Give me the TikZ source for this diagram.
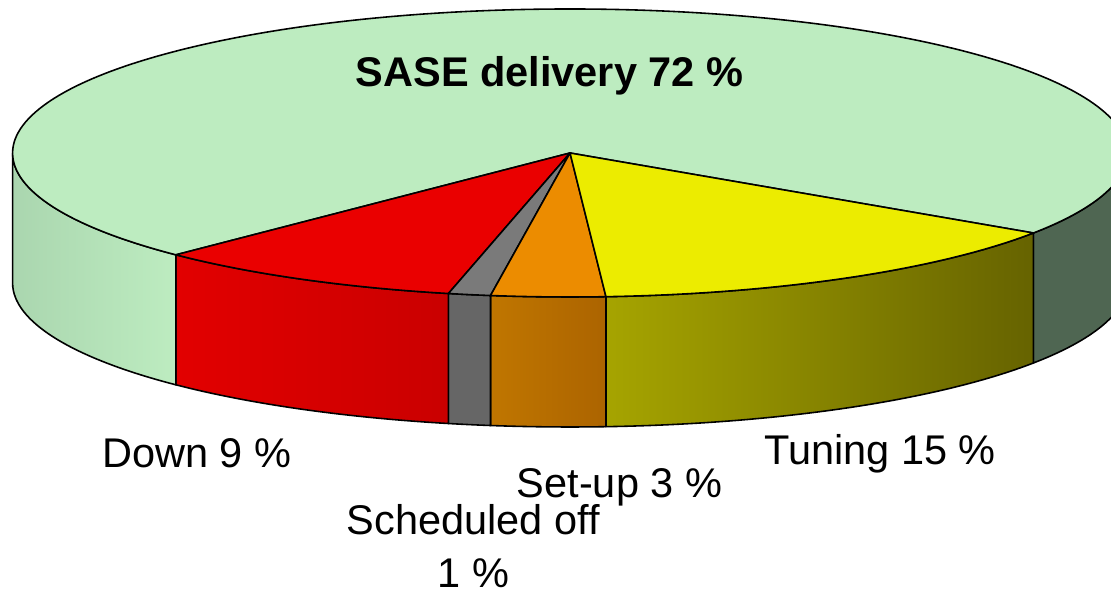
\documentclass[tikz,border=0pt]{standalone}
\usepackage{fontspec}
\setmainfont{Liberation Sans}
\usepackage{tikz}
\usetikzlibrary{positioning}
\definecolor{sasegreen}{RGB}{189,236,192}
\definecolor{sasegreenedge}{RGB}{170,214,175}
\definecolor{sasegreendark}{RGB}{79,102,82}
\definecolor{downred}{RGB}{234,0,0}
\definecolor{downredA}{RGB}{226,0,0}
\definecolor{downredB}{RGB}{202,0,0}
\definecolor{offgray}{RGB}{122,122,122}
\definecolor{offgrayside}{RGB}{102,102,102}
\definecolor{setorange}{RGB}{236,140,0}
\definecolor{setorangeA}{RGB}{192,118,0}
\definecolor{setorangeB}{RGB}{172,100,0}
\definecolor{tuneyellow}{RGB}{236,236,0}
\definecolor{tuneyellowA}{RGB}{166,164,0}
\definecolor{tuneyellowM}{RGB}{118,116,0}
\definecolor{tuneyellowB}{RGB}{102,99,0}
\tikzstyle{slice} = [draw=black, line width=0.45pt, line join=round]
\tikzstyle{pielabel} = [font=\fontsize{11.8}{14}\selectfont, anchor=base, inner sep=0pt]
% side wall between two angles, top slice from centre
\newcommand{\pieside}[3]{\path[slice,#3] ({570+557.4*cos(#1)},{153+144*sin(#1)})
  arc[start angle=#1, end angle=#2, x radius=557.4, y radius=144] -- ++(0,130)
  arc[start angle=#2, end angle=#1, x radius=557.4, y radius=144] -- cycle;}
\newcommand{\pietop}[3]{\path[slice,#3] (ctr) -- ({570+557.4*cos(#1)},{153+144*sin(#1)})
  arc[start angle=#1, end angle=#2, x radius=557.4, y radius=144] -- cycle;}
\begin{document}
\begin{tikzpicture}[x=0.01cm, y=-0.01cm]
  \useasboundingbox (0,0) rectangle (1111,595);
  \begin{scope}
    \clip (0,0) rectangle (1111,595);
    \coordinate (ctr) at (570,153);
    % Draw side walls
    \pieside{0}{33.75}{fill=sasegreendark}
    \pieside{33.75}{86.3}{left color=tuneyellowA, middle color=tuneyellowM, right color=tuneyellowB}
    \pieside{86.3}{98.2}{left color=setorangeA, right color=setorangeB}
    \pieside{98.2}{102.6}{fill=offgrayside}
    \pieside{102.6}{135}{left color=downredA, right color=downredB}
    \pieside{135}{180}{left color=sasegreenedge, middle color=sasegreen, right color=sasegreen}
    % Draw top slices
    \pietop{135}{393.75}{fill=sasegreen}
    \pietop{102.6}{135}{fill=downred}
    \pietop{98.2}{102.6}{fill=offgray}
    \pietop{86.3}{98.2}{fill=setorange}
    \pietop{33.75}{86.3}{fill=tuneyellow}
  \end{scope}
  % Place labels
  \node [pielabel, font=\fontsize{11.8}{14}\selectfont\bfseries] (sase) at (549.5,87) {SASE delivery 72 \%};
  \node [pielabel] (down) at (197,468) {Down 9 \%};
  \node [pielabel] (tuning) at (880,465) {Tuning 15 \%};
  \node [pielabel] (setup) at (619.5,498) {Set-up 3 \%};
  \node [pielabel, align=center, font=\fontsize{11.8}{15.1}\selectfont] (schedoff) at (473.5,588) {Scheduled off\\1 \%};
\end{tikzpicture}
\end{document}
